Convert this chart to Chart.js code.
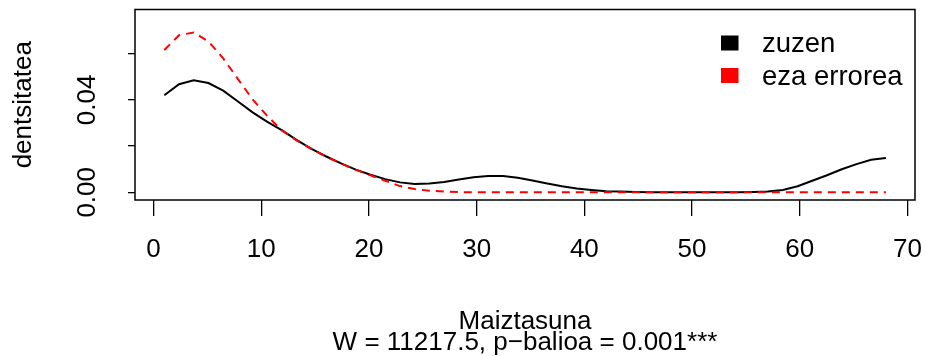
<!DOCTYPE html>
<html>
<head>
<meta charset="utf-8">
<script src="https://cdn.jsdelivr.net/npm/chart.js@4/dist/chart.umd.min.js"></script>
<style>
  html, body { margin: 0; padding: 0; background: #fff; }
  canvas { display: block; }
</style>
</head>
<body>
<canvas id="c" width="926" height="356"></canvas>
<script>
// Kernel density estimates of word frequency, evaluated on a 50-point grid
const xGrid = [1.00, 2.37, 3.73, 5.10, 6.47, 7.84, 9.20, 10.57, 11.94, 13.31,
  14.67, 16.04, 17.41, 18.78, 20.14, 21.51, 22.88, 24.24, 25.61, 26.98,
  28.35, 29.71, 31.08, 32.45, 33.82, 35.18, 36.55, 37.92, 39.29, 40.65,
  42.02, 43.39, 44.76, 46.12, 47.49, 48.86, 50.22, 51.59, 52.96, 54.33,
  55.69, 57.06, 58.43, 59.80, 61.16, 62.53, 63.90, 65.27, 66.63, 68.00];

const densZuzen = [0.0420, 0.0468, 0.0485, 0.0473, 0.0440, 0.0393, 0.0346, 0.0305, 0.0268, 0.0226,
  0.0188, 0.0155, 0.0125, 0.0098, 0.0076, 0.0057, 0.0043, 0.0036, 0.0038, 0.0045,
  0.0055, 0.0065, 0.0071, 0.0071, 0.0063, 0.0051, 0.0038, 0.0026, 0.0016, 0.0010,
  0.0005, 0.0003, 0.0001, 0.0000, 0.0000, 0.0000, 0.0000, 0.0000, 0.0000, 0.0000,
  0.0001, 0.0003, 0.0010, 0.0026, 0.0050, 0.0074, 0.0100, 0.0122, 0.0141, 0.0149];

const densEza = [0.0616, 0.0680, 0.0692, 0.0653, 0.0580, 0.0490, 0.0402, 0.0330, 0.0267, 0.0224,
  0.0187, 0.0154, 0.0124, 0.0097, 0.0074, 0.0050, 0.0027, 0.0014, 0.0007, 0.0003,
  0.0001, 0.0000, 0.0000, 0.0000, 0.0000, 0.0000, 0.0000, 0.0000, 0.0000, 0.0000,
  0.0000, 0.0000, 0.0000, 0.0000, 0.0000, 0.0000, 0.0000, 0.0000, 0.0000, 0.0000,
  0.0000, 0.0000, 0.0000, 0.0000, 0.0000, 0.0000, 0.0000, 0.0000, 0.0000, 0.0000];

const seriesNames = ['zuzen', 'eza errorea'];
const xTicks = [0, 10, 20, 30, 40, 50, 60, 70];
const yTicks = [0, 0.02, 0.04, 0.06];
const yLabeled = [0, 0.04];
const xTitle = ['Maiztasuna', 'W = 11217.5, p\u2212balioa = 0.001***'];
const yTitle = 'dentsitatea';

const FONT = "'Liberation Sans', Arial, Helvetica, sans-serif";

const toPoints = ys => xGrid.map((x, i) => ({ x: x, y: ys[i] }));

// Scales keep a fixed size and do not push the plot inward for overhanging labels
const fixSize = (w, h) => s => {
  if (w !== null) s.width = w;
  if (h !== null) s.height = h;
  s.paddingLeft = 0; s.paddingRight = 0; s.paddingTop = 0; s.paddingBottom = 0;
};

// Frame around the plotting region
const boxPlugin = {
  id: 'box',
  afterDatasetsDraw(chart) {
    const { ctx, chartArea: a } = chart;
    ctx.save();
    ctx.strokeStyle = '#000';
    ctx.lineWidth = 1.5;
    ctx.strokeRect(a.left, a.top, a.right - a.left, a.bottom - a.top);
    ctx.restore();
  }
};

// Filled-square legend in the upper right of the plot
const squareLegend = {
  id: 'squareLegend',
  afterDraw(chart) {
    const { ctx, chartArea: a } = chart;
    const sets = chart.data.datasets.slice().sort((p, q) => p.legendIndex - q.legendIndex);
    ctx.save();
    ctx.font = '27.5px ' + FONT;
    ctx.textBaseline = 'alphabetic';
    ctx.textAlign = 'left';
    sets.forEach((ds, i) => {
      const cy = a.top + 33.5 + i * 32.5;
      ctx.fillStyle = ds.borderColor;
      ctx.fillRect(a.right - 194, cy - 7.5, 17.5, 15);
      ctx.fillStyle = '#000';
      ctx.fillText(ds.label, a.right - 153, cy + 9);
    });
    ctx.restore();
  }
};

new Chart(document.getElementById('c'), {
  type: 'line',
  data: {
    datasets: [
      {
        label: seriesNames[0],
        legendIndex: 0,
        data: toPoints(densZuzen),
        borderColor: '#000000',
        borderWidth: 2,
        pointRadius: 0,
        tension: 0,
        order: 1
      },
      {
        label: seriesNames[1],
        legendIndex: 1,
        data: toPoints(densEza),
        borderColor: '#FF0000',
        borderWidth: 2,
        borderDash: [8, 6],
        pointRadius: 0,
        tension: 0,
        order: 0
      }
    ]
  },
  options: {
    responsive: false,
    animation: false,
    devicePixelRatio: 1,
    layout: { padding: { top: 9.5, right: 11, left: 0, bottom: 0 } },
    plugins: { legend: { display: false }, tooltip: { enabled: false } },
    scales: {
      x: {
        type: 'linear',
        position: 'bottom',
        min: -1.72,
        max: 70.7,
        afterBuildTicks: s => { s.ticks = xTicks.map(v => ({ value: v })); },
        afterFit: fixSize(null, 156),
        ticks: {
          color: '#000',
          font: { family: FONT, size: 26, lineHeight: 1.2 },
          padding: 18.5,
          autoSkip: false,
          maxRotation: 0,
          callback: v => String(v)
        },
        grid: { drawOnChartArea: false, drawTicks: true, tickLength: 16, color: '#000', lineWidth: 1.3 },
        border: { display: false },
        title: {
          display: true,
          text: xTitle,
          color: '#000',
          font: { family: FONT, size: 26, lineHeight: '21px' },
          padding: { top: 0, bottom: 3 }
        }
      },
      y: {
        type: 'linear',
        position: 'left',
        min: -0.00333,
        max: 0.07913,
        afterBuildTicks: s => { s.ticks = yTicks.map(v => ({ value: v })); },
        afterFit: fixSize(135, null),
        ticks: {
          color: '#000',
          font: { family: FONT, size: 26, lineHeight: 1.2 },
          padding: 14.5,
          minRotation: 90,
          maxRotation: 90,
          crossAlign: 'center',
          autoSkip: false,
          callback: v => (yLabeled.includes(v) ? v.toFixed(2) : '')
        },
        grid: { drawOnChartArea: false, drawTicks: true, tickLength: 7, color: '#000', lineWidth: 1.3 },
        border: { display: false },
        title: {
          display: true,
          text: yTitle,
          color: '#000',
          font: { family: FONT, size: 26, lineHeight: 1.2 },
          padding: { top: 8.7, bottom: 0 }
        }
      }
    }
  },
  plugins: [boxPlugin, squareLegend]
});
</script>
</body>
</html>
